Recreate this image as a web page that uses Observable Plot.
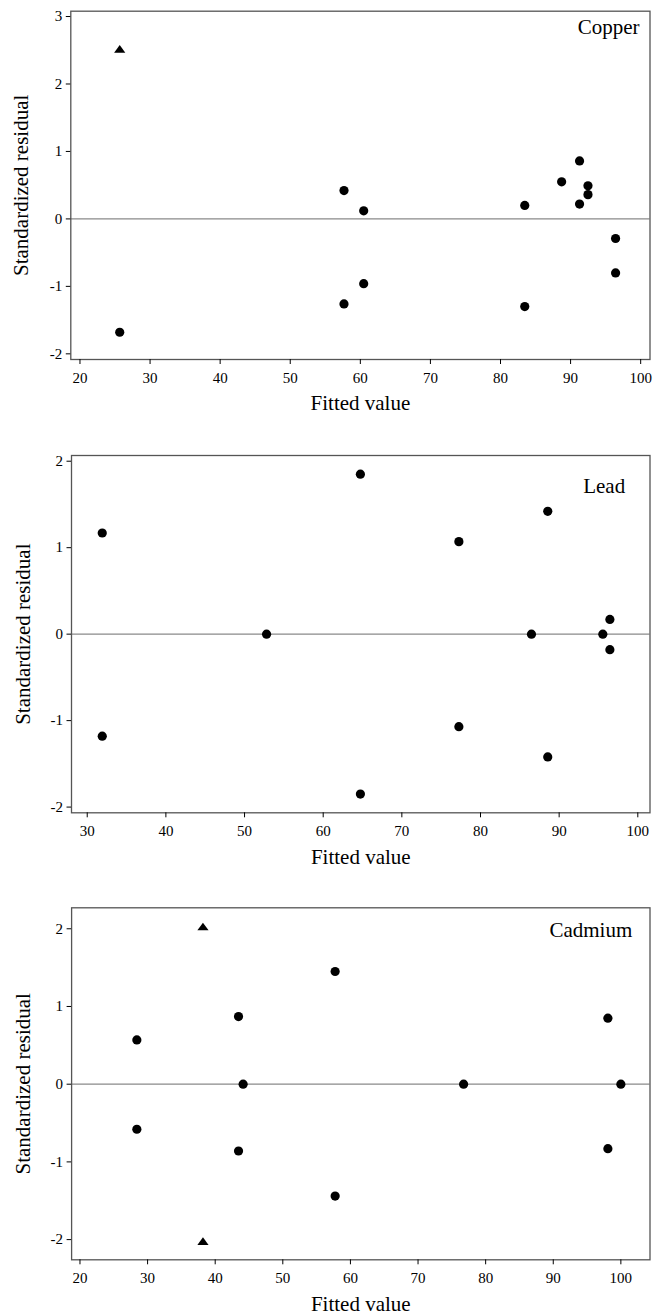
<!DOCTYPE html>
<html>
<head>
<meta charset="utf-8">
<script src="https://cdn.jsdelivr.net/npm/d3@7"></script>
<script src="https://cdn.jsdelivr.net/npm/@observablehq/plot@0.6"></script>
<style>
  html, body { margin: 0; padding: 0; background: #fff; }
  #wrap { position: relative; width: 654px; height: 1316px; overflow: hidden; }
  #wrap > div { position: absolute; left: 0; }
  #wrap svg, #wrap svg text { font-family: 'Liberation Serif', 'Times New Roman', Times, serif !important; }
</style>
</head>
<body>
<div id="wrap">
  <div id="p1" style="top:0px"></div>
  <div id="p2" style="top:440px"></div>
  <div id="p3" style="top:880px"></div>
</div>
<script>
// ---------- data ----------
const panelNames = ["Copper", "Lead", "Cadmium"];
const xTitle = "Fitted value";
const yTitle = "Standardized residual";

// Copper
const copperFitted = [25.67, 57.67, 60.48, 83.46, 88.72, 91.28, 92.48, 92.48, 91.28, 96.42, 96.42, 60.48, 57.67, 83.46];
const copperResid  = [-1.68, 0.42, 0.12, 0.20, 0.55, 0.86, 0.49, 0.36, 0.22, -0.29, -0.80, -0.96, -1.26, -1.30];
const copperOutFitted = [25.67];
const copperOutResid  = [2.52];

// Lead
const leadFitted = [31.91, 31.91, 52.80, 64.73, 64.73, 77.25, 77.25, 86.48, 88.55, 88.55, 95.55, 96.45, 96.45];
const leadResid  = [1.17, -1.18, 0, 1.85, -1.85, 1.07, -1.07, 0, 1.42, -1.42, 0, 0.17, -0.18];
const leadOutFitted = [];
const leadOutResid  = [];

// Cadmium
const cadmiumFitted = [28.41, 28.41, 43.45, 43.45, 44.13, 57.74, 57.74, 76.74, 98.08, 98.08, 100.0];
const cadmiumResid  = [0.57, -0.58, 0.87, -0.86, 0, 1.45, -1.44, 0, 0.85, -0.83, 0];
const cadmiumOutFitted = [38.19, 38.19];
const cadmiumOutResid  = [2.03, -2.02];

// tick values
const xTicks1 = [20, 30, 40, 50, 60, 70, 80, 90, 100];
const xTicks2 = [30, 40, 50, 60, 70, 80, 90, 100];
const xTicks3 = [20, 30, 40, 50, 60, 70, 80, 90, 100];
const yTicks1 = [-2, -1, 0, 1, 2, 3];
const yTicks2 = [-2, -1, 0, 1, 2];
const yTicks3 = [-2, -1, 0, 1, 2];

// ---------- drawing ----------
const FONT = "Liberation Serif, Times New Roman, Times, serif";

// flattened triangle symbol
const flatTriangle = {
  draw(context, size) {
    const r = Math.sqrt(size / Math.PI);
    const w = r * 1.4, h = r * 0.95;
    context.moveTo(0, -h);
    context.lineTo(w, h);
    context.lineTo(-w, h);
    context.closePath();
  }
};

function pts(xs, ys) { return xs.map((x, i) => ({x, y: ys[i]})); }

function panel(cfg) {
  const svg = Plot.plot({
    width: 654,
    height: cfg.height,
    marginTop: cfg.mt,
    marginBottom: cfg.mb,
    marginLeft: cfg.ml,
    marginRight: cfg.mr,
    style: {fontFamily: FONT, fontSize: "15px", color: "#000", background: "#fff"},
    x: {domain: cfg.xDomain},
    y: {domain: cfg.yDomain},
    marks: [
      Plot.ruleY([0], {stroke: "#8a8a8a", strokeWidth: 1.2}),
      Plot.dot(pts(cfg.fx, cfg.fy), {x: "x", y: "y", r: 4.6, fill: "#000", stroke: "none", symbol: "circle"}),
      Plot.dot(pts(cfg.tx, cfg.ty), {x: "x", y: "y", r: 4, fill: "#000", stroke: "none", symbol: flatTriangle}),
      Plot.frame({stroke: "#555", strokeWidth: 1.3}),
      Plot.axisX({ticks: cfg.xTicks, tickSize: 5, tickPadding: 8, label: null, tickFormat: d => `${d}`, fontSize: 15}),
      Plot.axisY({ticks: cfg.yTicks, tickSize: 4.5, tickPadding: 4, label: null, tickFormat: d => `${d}`, fontSize: 15}),
      Plot.text([xTitle], {frameAnchor: "bottom", lineAnchor: "middle", textAnchor: "middle", dy: cfg.xTitleDy, fontSize: 21, fill: "#000"}),
      Plot.text([yTitle], {frameAnchor: "left", lineAnchor: "middle", textAnchor: "middle", rotate: -90, dx: cfg.yTitleDx, fontSize: 21, fill: "#000"}),
      Plot.text([cfg.name], {frameAnchor: "top-right", lineAnchor: "middle", textAnchor: "end", dx: cfg.nameDx, dy: cfg.nameDy, fontSize: 21, fill: "#000"})
    ]
  });
  // make tick labels serif 15px (override any axis defaults)
  const titles = [xTitle, yTitle, ...panelNames];
  svg.querySelectorAll("text").forEach(t => {
    if (!titles.includes(t.textContent)) {
      t.style.fontSize = "15px";
      t.style.fontFamily = FONT;
    }
  });
  return svg;
}

document.getElementById("p1").appendChild(panel({
  height: 440, mt: 10.7, mb: 81, ml: 70.3, mr: 4.5,
  xDomain: [18.69, 101.33], yDomain: [-2.084, 3.079],
  fx: copperFitted, fy: copperResid, tx: copperOutFitted, ty: copperOutResid,
  xTicks: xTicks1, yTicks: yTicks1,
  xTitleDy: 44, yTitleDx: -49.5, name: panelNames[0], nameDx: -10.5, nameDy: 16.3
}));

document.getElementById("p2").appendChild(panel({
  height: 440, mt: 15, mb: 67.7, ml: 71, mr: 4.5,
  xDomain: [28.0, 101.55], yDomain: [-2.066, 2.066],
  fx: leadFitted, fy: leadResid, tx: leadOutFitted, ty: leadOutResid,
  xTicks: xTicks2, yTicks: yTicks2,
  xTitleDy: 44, yTitleDx: -48.5, name: panelNames[1], nameDx: -24.8, nameDy: 30.3
}));

document.getElementById("p3").appendChild(panel({
  height: 436, mt: 27.3, mb: 56.7, ml: 71.1, mr: 4.5,
  xDomain: [18.76, 104.31], yDomain: [-2.26, 2.27],
  fx: cadmiumFitted, fy: cadmiumResid, tx: cadmiumOutFitted, ty: cadmiumOutResid,
  xTicks: xTicks3, yTicks: yTicks3,
  xTitleDy: 44, yTitleDx: -48.5, name: panelNames[2], nameDx: -17.7, nameDy: 22.7
}));
</script>
</body>
</html>
